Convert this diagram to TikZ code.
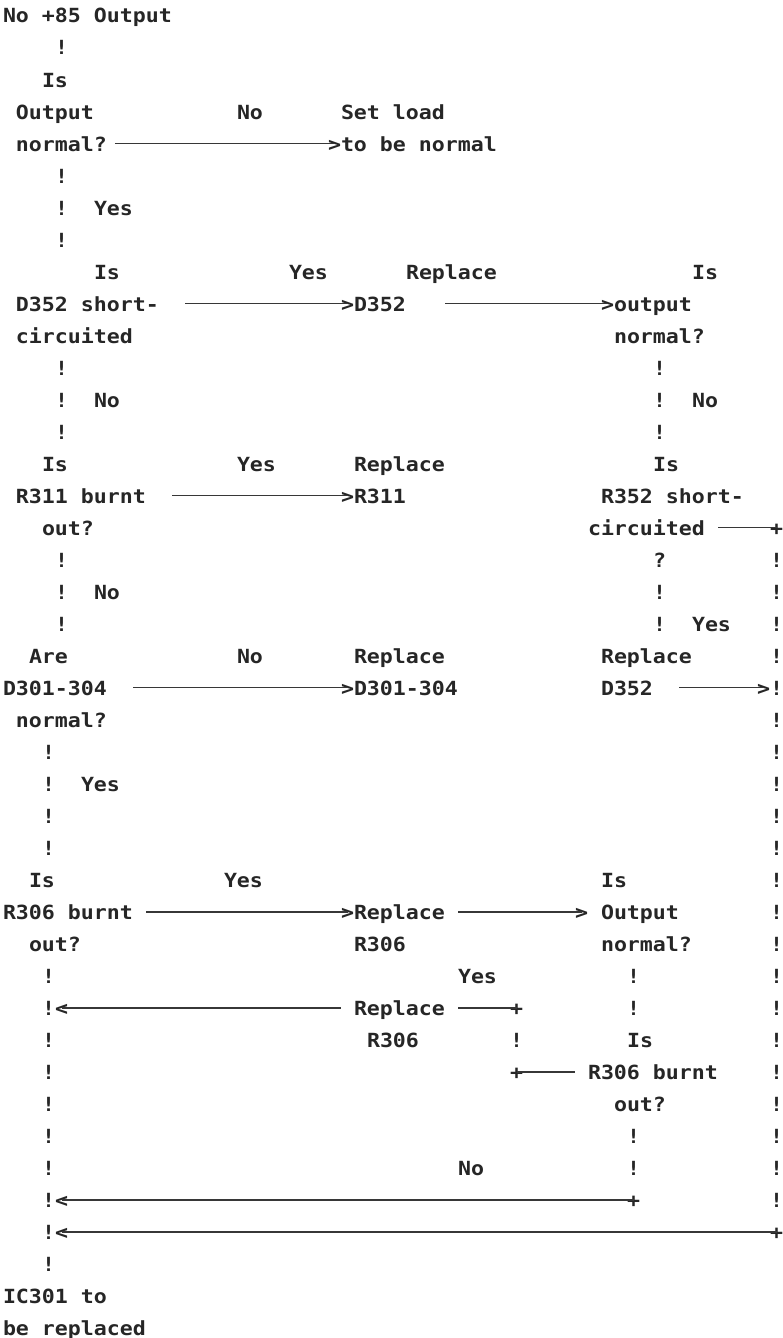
\documentclass[tikz,border=0pt]{standalone}
\usepackage{fontspec}
\newfontfamily\dmono[FakeStretch=1.107]{DejaVu Sans Mono Bold}
\definecolor{ink}{RGB}{38,38,38}
\definecolor{wire}{RGB}{55,55,55}
\begin{document}
\begin{tikzpicture}[x=13pt,y=-32pt,
  t/.style={anchor=base west,inner sep=0pt,outer sep=0pt,text=ink,font=\dmono\fontsize{19.5pt}{24pt}\selectfont},
  hl/.style={draw=wire,line width=1.7pt}]
\path[use as bounding box] (0pt,0pt) rectangle (782pt,-1338pt);
\begin{scope}[shift={(3pt,9pt)}]
% vertical "!" runs
\foreach \r in {2,6,7,8,12,13,14,18,19,20} \node[t] (la\r) at (4,\r) {!};
\foreach \r in {24,25,26,27,31,32,33,34,35,36,37,38,39,40} \node[t] (lb\r) at (3,\r) {!};
\foreach \r in {12,13,14,19,20} \node[t] (ra\r) at (50,\r) {!};
\foreach \r in {18,19,20,21,22,23,24,25,26,27,28,29,30,31,32,33,34,35,36,37,38} \node[t] (rb\r) at (59,\r) {!};
\foreach \r in {31,32,36,37} \node[t] (rc\r) at (48,\r) {!};
\node[t] (rd33) at (39,33) {!};
% rows 1-8
\node[t] (r1) at (0,1) {No +85 Output};
\node[t] (r3) at (3,3) {Is};
\node[t] (r4a) at (1,4) {Output};
\node[t] (r4b) at (18,4) {No};
\node[t] (r4c) at (26,4) {Set load};
\node[t] (r5a) at (1,5) {normal?};
\node[t] (g5) at (25,5) {>};
\node[t] (r5c) at (26,5) {to be normal};
\node[t] (r7) at (7,7) {Yes};
% rows 9-14
\node[t] (r9a) at (7,9) {Is};
\node[t] (r9b) at (22,9) {Yes};
\node[t] (r9c) at (31,9) {Replace};
\node[t] (r9d) at (53,9) {Is};
\node[t] (r10a) at (1,10) {D352 short-};
\node[t] (g10a) at (26,10) {>};
\node[t] (r10b) at (27,10) {D352};
\node[t] (g10b) at (46,10) {>};
\node[t] (r10c) at (47,10) {output};
\node[t] (r11a) at (1,11) {circuited};
\node[t] (r11b) at (47,11) {normal?};
\node[t] (r13a) at (7,13) {No};
\node[t] (r13b) at (53,13) {No};
% rows 15-27
\node[t] (r15a) at (3,15) {Is};
\node[t] (r15b) at (18,15) {Yes};
\node[t] (r15c) at (27,15) {Replace};
\node[t] (r15d) at (50,15) {Is};
\node[t] (r16a) at (1,16) {R311 burnt};
\node[t] (g16) at (26,16) {>};
\node[t] (r16b) at (27,16) {R311};
\node[t] (r16c) at (46,16) {R352 short-};
\node[t] (r17a) at (3,17) {out?};
\node[t] (r17b) at (45,17) {circuited};
\node[t] (p17) at (59,17) {+};
\node[t] (q18) at (50,18) {?};
\node[t] (r19) at (7,19) {No};
\node[t] (r20) at (53,20) {Yes};
\node[t] (r21a) at (2,21) {Are};
\node[t] (r21b) at (18,21) {No};
\node[t] (r21c) at (27,21) {Replace};
\node[t] (r21d) at (46,21) {Replace};
\node[t] (r22a) at (0,22) {D301-304};
\node[t] (g22a) at (26,22) {>};
\node[t] (r22b) at (27,22) {D301-304};
\node[t] (r22c) at (46,22) {D352};
\node[t] (g22b) at (58,22) {>};
\node[t] (r23) at (1,23) {normal?};
\node[t] (r25) at (6,25) {Yes};
% rows 28-42
\node[t] (r28a) at (2,28) {Is};
\node[t] (r28b) at (17,28) {Yes};
\node[t] (r28c) at (46,28) {Is};
\node[t] (r29a) at (0,29) {R306 burnt};
\node[t] (g29a) at (26,29) {>};
\node[t] (r29b) at (27,29) {Replace};
\node[t] (g29b) at (44,29) {>};
\node[t] (r29c) at (46,29) {Output};
\node[t] (r30a) at (2,30) {out?};
\node[t] (r30b) at (27,30) {R306};
\node[t] (r30c) at (46,30) {normal?};
\node[t] (r31) at (35,31) {Yes};
\node[t] (h32) at (4,32) {<};
\node[t] (r32) at (27,32) {Replace};
\node[t] (p32) at (39,32) {+};
\node[t] (r33a) at (28,33) {R306};
\node[t] (r33b) at (48,33) {Is};
\node[t] (p34) at (39,34) {+};
\node[t] (r34) at (45,34) {R306 burnt};
\node[t] (r35) at (47,35) {out?};
\node[t] (r37) at (35,37) {No};
\node[t] (h38) at (4,38) {<};
\node[t] (p38) at (48,38) {+};
\node[t] (h39) at (4,39) {<};
\node[t] (p39) at (59,39) {+};
\node[t] (r41) at (0,41) {IC301 to};
\node[t] (r42) at (0,42) {be replaced};
% horizontal connectors
\def\d{0.23}
\coordinate (s5) at (8.6,5-\d);   \coordinate (e5) at (25.5,5-\d);
\coordinate (s10a) at (14,10-\d); \coordinate (e10a) at (26.5,10-\d);
\coordinate (s10b) at (34,10-\d); \coordinate (e10b) at (46.5,10-\d);
\coordinate (s16) at (13,16-\d);  \coordinate (e16) at (26.5,16-\d);
\coordinate (s17) at (55,17-\d);  \coordinate (e17) at (59.5,17-\d);
\coordinate (s22a) at (10,22-\d); \coordinate (e22a) at (26.5,22-\d);
\coordinate (s22b) at (52,22-\d); \coordinate (e22b) at (58.5,22-\d);
\coordinate (s29a) at (11,29-\d); \coordinate (e29a) at (26.5,29-\d);
\coordinate (s29b) at (35,29-\d); \coordinate (e29b) at (44.5,29-\d);
\coordinate (s32a) at (4.5,32-\d); \coordinate (e32a) at (26,32-\d);
\coordinate (s32b) at (35,32-\d); \coordinate (e32b) at (39.5,32-\d);
\coordinate (s34) at (39.5,34-\d); \coordinate (e34) at (44,34-\d);
\coordinate (s38) at (4.5,38-\d); \coordinate (e38) at (48.5,38-\d);
\coordinate (s39) at (4.5,39-\d); \coordinate (e39) at (59.5,39-\d);
\foreach \k in {5,10a,10b,16,17,22a,22b,29a,29b,32a,32b,34,38,39}
  \draw[hl] (s\k) -- (e\k);
\end{scope}
\end{tikzpicture}
\end{document}
